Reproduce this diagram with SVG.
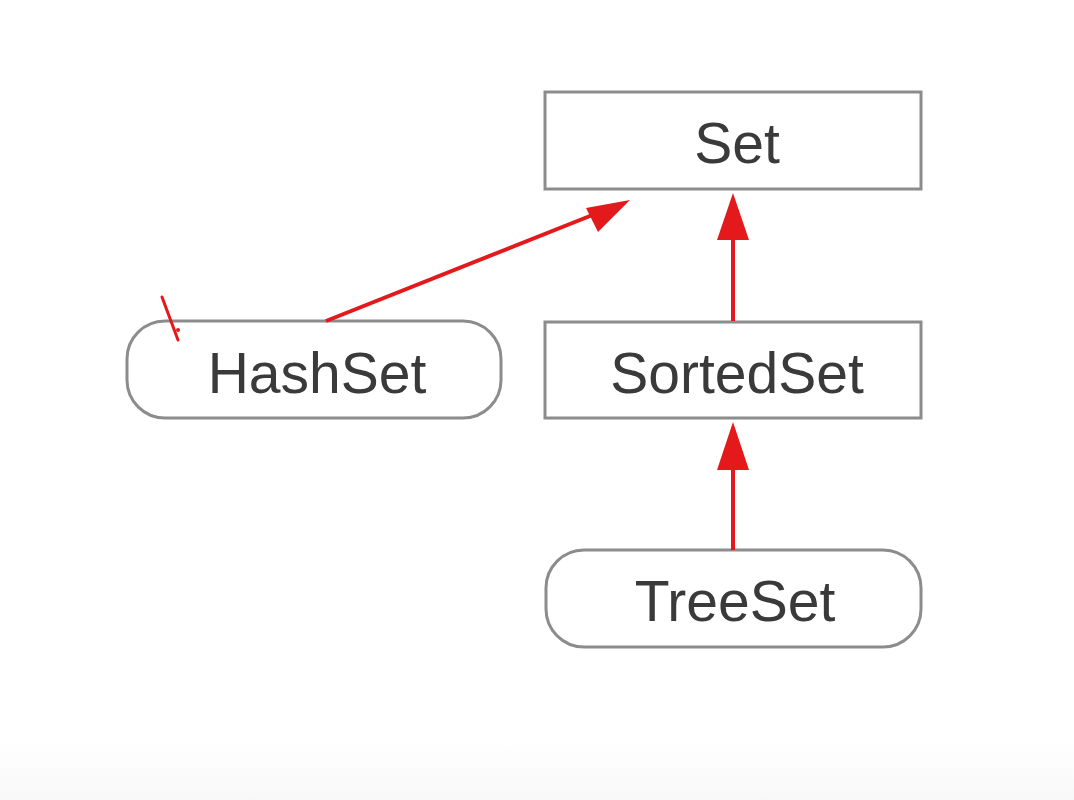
<svg xmlns="http://www.w3.org/2000/svg" width="1074" height="800" viewBox="0 0 1074 800">
<defs>
<linearGradient id="bg" x1="0" y1="0" x2="0" y2="1">
<stop offset="0" stop-color="#ffffff"/>
<stop offset="1" stop-color="#f8f8f8"/>
</linearGradient>
<style>
.box{fill:#ffffff;stroke:#8c8c8c;stroke-width:3}
.lbl{font-family:"Liberation Sans",Arial,sans-serif;font-size:57px;fill:#3a3a3a;text-anchor:middle}
.con{stroke:#e4191b;stroke-width:4;fill:none}
.head{fill:#e4191b}
</style>
</defs>
<rect x="0" y="0" width="1074" height="800" fill="#ffffff"/>
<rect x="0" y="740" width="1074" height="60" fill="url(#bg)"/>
<g id="Set">
<rect class="box" x="545" y="92" width="376" height="97"/>
<text class="lbl" x="737" y="163">Set</text>
</g>
<g id="HashSet">
<rect class="box" x="127" y="321" width="374" height="97" rx="38" ry="38"/>
<text class="lbl" x="317" y="393">HashSet</text>
</g>
<g id="SortedSet">
<rect class="box" x="545" y="322" width="376" height="96"/>
<text class="lbl" x="737" y="393">SortedSet</text>
</g>
<g id="TreeSet">
<rect class="box" x="546" y="550" width="375" height="97" rx="38" ry="38"/>
<text class="lbl" x="735" y="621">TreeSet</text>
</g>
<g id="connectors">
<line class="con" x1="326" y1="321" x2="600" y2="212"/>
<polygon class="head" points="630,200 586,208 598,232"/>
<line class="con" x1="733" y1="321" x2="733" y2="235"/>
<polygon class="head" points="733,193 717,240 749,240"/>
<line class="con" x1="733" y1="550" x2="733" y2="465"/>
<polygon class="head" points="733,422 717,470 749,470"/>
</g>
<g id="mark">
<line x1="162" y1="297" x2="178" y2="340" stroke="#e4191b" stroke-width="3" stroke-linecap="round"/>
<circle cx="178" cy="330" r="2" fill="#e4191b"/>
</g>
</svg>
